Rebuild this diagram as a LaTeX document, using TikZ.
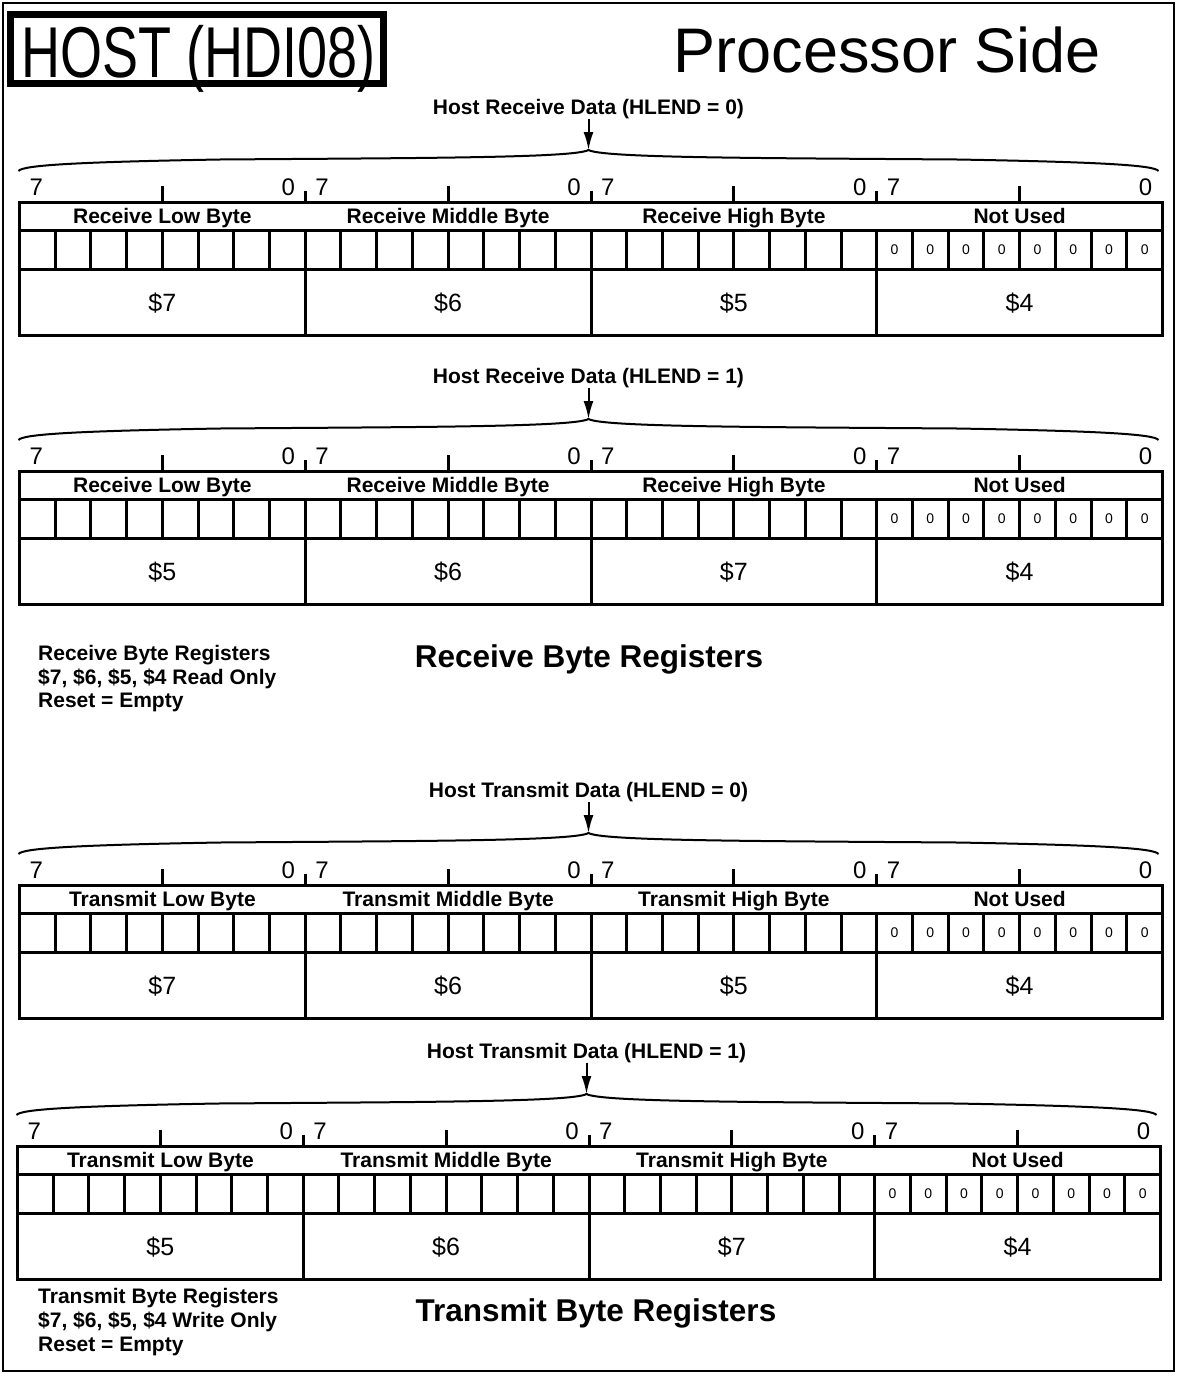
\documentclass[tikz,border=0pt]{standalone}
\usepackage{fontspec}
\setmainfont{Liberation Sans}
\usetikzlibrary{arrows.meta}
\tikzset{
  frame/.style={line width=2pt},
  tbl/.style={line width=3pt},
  tickmark/.style={line width=3pt},
  bitnum/.style={font=\fontsize{24}{24}\selectfont, inner sep=0pt},
  hdr/.style={font=\fontsize{21}{21}\selectfont\bfseries, inner sep=0pt, anchor=base},
  hex/.style={font=\fontsize{25}{25}\selectfont, inner sep=0pt, anchor=base},
  zero/.style={font=\fontsize{14}{14}\selectfont, inner sep=0pt},
  lab/.style={font=\fontsize{21}{21}\selectfont\bfseries, inner sep=0pt, anchor=base},
  note/.style={font=\fontsize{21}{21}\selectfont\bfseries, inner sep=0pt, anchor=base west},
  big/.style={font=\fontsize{31.5}{31.5}\selectfont\bfseries, inner sep=0pt, anchor=base},
  bracestyle/.style={line width=2pt},
  arr/.style={line width=2pt, -{Latex[length=18pt,width=10pt]}},
}
\newcommand\regsec[7]{%
\begin{scope}[shift={(#2,#3)}]
 \node[lab] (#1lab) at (569,-88) {#4};
 \coordinate (#1tip) at (569,-52);
 \draw[arr] (#1lab.south) -- (#1tip);
 \draw[bracestyle] (-1,-31) .. controls (3,-37) and (60,-40) .. (200,-42.5)
   .. controls (400,-44) and (555,-44) .. (#1tip)
   .. controls (583,-44) and (738,-44) .. (938,-42.5)
   .. controls (1078,-40) and (1135,-37) .. (1139,-31);
 \draw[tbl] (0,0) rectangle (1143,133);
 \draw[tbl] (0,28) -- (1143,28) (0,67) -- (1143,67);
 \foreach \k in {1,...,31} \draw[tbl] ({\k*35.71875},28) -- ({\k*35.71875},67);
 \foreach \b in {1,2,3} {
   \draw[tbl] ({\b*285.75},67) -- ({\b*285.75},133);
   \draw[tickmark] ({\b*285.75},-11) -- ({\b*285.75},0);}
 \foreach \b in {0,...,3} {
   \draw[tickmark] ({(\b+0.5)*285.75},-16) -- ({(\b+0.5)*285.75},0);
   \node[bitnum, anchor=base west] (#1s\b) at ({\b*285.75+10},-7) {7};
   \node[bitnum, anchor=base east] (#1e\b) at ({(\b+1)*285.75-10},-7) {0};}
 \foreach \k in {0,...,7} \node[zero] (#1z\k) at ({857.25+(\k+0.5)*35.71875},47.5) {0};
 \node[hdr] (#1h0) at (142.875,21) {#5 Low Byte};
 \node[hdr] (#1h1) at (428.625,21) {#5 Middle Byte};
 \node[hdr] (#1h2) at (714.375,21) {#5 High Byte};
 \node[hdr] (#1h3) at (1000.125,21) {Not Used};
 \node[hex] (#1x0) at (142.875,109) {\$#6};
 \node[hex] (#1x1) at (428.625,109) {\$6};
 \node[hex] (#1x2) at (714.375,109) {\$#7};
 \node[hex] (#1x3) at (1000.125,109) {\$4};
\end{scope}}
\begin{document}
\begin{tikzpicture}[x=1pt,y=-1pt]
\useasboundingbox (0,0) rectangle (1178,1374);
\draw[frame] (3,3) rectangle (1174,1371);
\node[draw, line width=7pt, minimum width=373pt, minimum height=69pt, inner sep=0pt] (titlebox) at (197,49) {};
\node[inner sep=0pt, anchor=base, font=\fontsize{72}{72}\selectfont] (titletext) at (198.5,77) {\scalebox{0.75}[1]{HOST (HDI08)}};
\node[inner sep=0pt, anchor=base, font=\fontsize{63}{63}\selectfont] (procside) at (887.5,72) {Processor Side};

\regsec{a}{19.5}{202}{Host Receive Data (HLEND = 0)}{Receive}{7}{5}
\regsec{b}{19.5}{471}{Host Receive Data (HLEND = 1)}{Receive}{5}{7}
\regsec{c}{19.5}{885}{Host Transmit Data (HLEND = 0)}{Transmit}{7}{5}
\regsec{d}{17.5}{1146}{Host Transmit Data (HLEND = 1)}{Transmit}{5}{7}

\node[note] (rn1) at (38,660) {Receive Byte Registers};
\node[note] (rn2) at (38,684) {\$7, \$6, \$5, \$4 Read Only};
\node[note] (rn3) at (38,707) {Reset = Empty};
\node[big] (rbig) at (589,667) {Receive Byte Registers};

\node[note] (tn1) at (38,1303) {Transmit Byte Registers};
\node[note] (tn2) at (38,1327) {\$7, \$6, \$5, \$4 Write Only};
\node[note] (tn3) at (38,1351) {Reset = Empty};
\node[big] (tbig) at (596,1321) {Transmit Byte Registers};
\end{tikzpicture}
\end{document}
